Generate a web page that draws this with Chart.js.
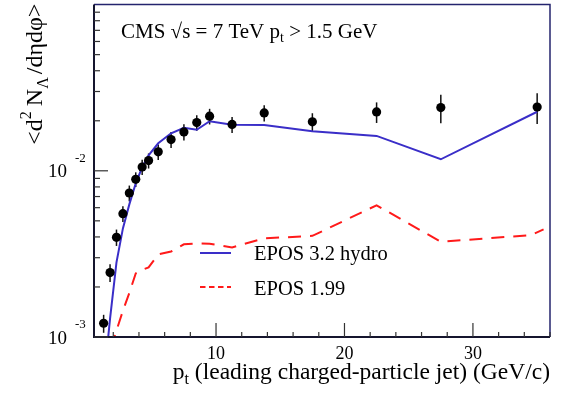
<!DOCTYPE html>
<html><head><meta charset="utf-8">
<script src="https://cdn.jsdelivr.net/npm/chart.js@4.4.1/dist/chart.umd.min.js"></script>
<style>html,body{margin:0;padding:0;background:#fff;}canvas{display:block;}</style>
</head><body>
<canvas id="c" width="565" height="395"></canvas>
<script>
// CMS data points (pt bin centres, value, stat. error)
const dataPt  = [1.25, 1.75, 2.25, 2.75, 3.25, 3.75, 4.25, 4.75, 5.5, 6.5, 7.5, 8.5, 9.5, 11.25, 13.75, 17.5, 22.5, 27.5, 35];
const dataVal = [0.00121, 0.00244, 0.00398, 0.00552, 0.00735, 0.00889, 0.01054, 0.01152, 0.0130, 0.01542, 0.01713, 0.01951, 0.0213, 0.0190, 0.0223, 0.0197, 0.0226, 0.0240, 0.0242];
const dataErr = [0.00015, 0.0003, 0.00045, 0.0006, 0.0008, 0.0009, 0.0011, 0.0012, 0.0014, 0.0017, 0.0019, 0.0021, 0.0023, 0.0021, 0.0025, 0.0025, 0.0032, 0.0047, 0.0051];
// EPOS 3.2 hydro
const hydroPt  = [1.25, 1.75, 2.25, 2.75, 3.25, 3.75, 4.25, 4.75, 5.5, 6.5, 7.5, 8.5, 9.5, 11.25, 13.75, 17.5, 22.5, 27.5, 35];
const hydroVal = [0.00053, 0.00129, 0.00281, 0.0045, 0.00628, 0.00841, 0.0105, 0.0124, 0.01464, 0.01682, 0.01816, 0.01766, 0.01987, 0.01892, 0.01888, 0.0173, 0.01621, 0.01173, 0.02266];
// EPOS 1.99
const eposPt  = [1.25, 1.75, 2.25, 2.75, 3.25, 3.75, 4.25, 4.75, 5.5, 6.5, 7.5, 8.5, 9.5, 11.25, 13.75, 17.5, 22.5, 27.5, 34.5, 35.5];
const eposVal = [0.00065, 0.000832, 0.001094, 0.00144, 0.001841, 0.002413, 0.002533, 0.002622, 0.00314, 0.00327, 0.00361, 0.00366, 0.00364, 0.00346, 0.00392, 0.00406, 0.0062, 0.00374, 0.00410, 0.00444];
// axis ticks
const xMajorTicks = [10, 20, 30];
const xTickLabels = ['10', '20', '30'];
const yMajorTicks = [0.001, 0.01];
const yTickBase = ['10', '10'];
const yTickExp  = ['-3', '-2'];
const seriesNames = ['EPOS 3.2 hydro', 'EPOS 1.99'];

const SERIF = '"Liberation Serif", "DejaVu Serif", serif';
const BLUE = '#3a2ec8';
const RED = '#ff1a1a';

function drawParts(ctx, parts, x, y) {
  let cx = x;
  for (const p of parts) {
    ctx.font = p.s + 'px ' + SERIF;
    ctx.fillText(p.t, cx, y + (p.dy || 0));
    cx += ctx.measureText(p.t).width + (p.gap || 0);
  }
  return cx - x;
}
function measureParts(ctx, parts) {
  let w = 0;
  for (const p of parts) { ctx.font = p.s + 'px ' + SERIF; w += ctx.measureText(p.t).width + (p.gap || 0); }
  return w;
}

const errorBars = {
  id: 'errorBars',
  beforeDatasetsDraw(chart) {
    const ctx = chart.ctx, xs = chart.scales.x, ys = chart.scales.y;
    ctx.save();
    ctx.strokeStyle = '#111';
    ctx.lineWidth = 1.5;
    for (let i = 0; i < dataPt.length; i++) {
      const px = xs.getPixelForValue(dataPt[i]);
      const y1 = ys.getPixelForValue(dataVal[i] - dataErr[i]);
      const y2 = ys.getPixelForValue(dataVal[i] + dataErr[i]);
      ctx.beginPath(); ctx.moveTo(px, y1); ctx.lineTo(px, y2); ctx.stroke();
    }
    ctx.restore();
  }
};

const decor = {
  id: 'decor',
  afterDraw(chart) {
    const ctx = chart.ctx, a = chart.chartArea, xs = chart.scales.x, ys = chart.scales.y;
    ctx.save();
    // frame
    ctx.lineWidth = 1.5;
    ctx.strokeStyle = '#24246e';
    ctx.beginPath(); ctx.moveTo(a.left, a.top); ctx.lineTo(a.right, a.top); ctx.lineTo(a.right, a.bottom); ctx.stroke();
    ctx.lineWidth = 2;
    ctx.strokeStyle = '#15152e';
    ctx.beginPath(); ctx.moveTo(a.left, a.top); ctx.lineTo(a.left, a.bottom); ctx.lineTo(a.right, a.bottom); ctx.stroke();
    // ticks
    ctx.lineWidth = 1.2;
    ctx.strokeStyle = '#333';
    for (let v = 2; v <= 36; v += 2) {
      const px = xs.getPixelForValue(v);
      const len = (v % 10 === 0) ? 14 : 5;
      ctx.beginPath(); ctx.moveTo(px, a.bottom); ctx.lineTo(px, a.bottom - len); ctx.stroke();
    }
    for (let e = -3; e <= -2; e++) {
      for (let k = 1; k <= 9; k++) {
        const v = k * Math.pow(10, e);
        const py = ys.getPixelForValue(v);
        const len = (k === 1) ? 14 : 6;
        ctx.beginPath(); ctx.moveTo(a.left, py); ctx.lineTo(a.left + len, py); ctx.stroke();
      }
    }
    ctx.fillStyle = '#000';
    ctx.textBaseline = 'alphabetic';
    // x tick labels
    ctx.font = '18px ' + SERIF;
    ctx.textAlign = 'center';
    xMajorTicks.forEach((v, i) => ctx.fillText(xTickLabels[i], xs.getPixelForValue(v), a.bottom + 22));
    // y tick labels
    yMajorTicks.forEach((v, i) => {
      const py = ys.getPixelForValue(v);
      ctx.textAlign = 'right';
      ctx.font = '19px ' + SERIF;
      ctx.fillText(yTickBase[i], 67, py + 6.5);
      ctx.textAlign = 'left';
      ctx.font = '13px ' + SERIF;
      ctx.fillText(yTickExp[i], 75, py - 9);
    });
    ctx.textAlign = 'left';
    // x title
    const xt = [{t: 'p', s: 23.5}, {t: 't', s: 16, dy: 5}, {t: ' (leading charged-particle jet) (GeV/c)', s: 23.5}];
    drawParts(ctx, xt, a.right - measureParts(ctx, xt), 378.5);
    // y title (rotated)
    const yt = [{t: '<d', s: 24}, {t: '2', s: 16, dy: -11, gap: 5}, {t: 'N', s: 24}, {t: 'Λ', s: 16, dy: 6, gap: 3}, {t: '/dηdφ>', s: 24}];
    ctx.save();
    ctx.translate(42, a.top - 1 + measureParts(ctx, yt));
    ctx.rotate(-Math.PI / 2);
    drawParts(ctx, yt, 0, 0);
    ctx.restore();
    // CMS label
    drawParts(ctx, [{t: 'CMS √s = 7 TeV p', s: 21}, {t: 't', s: 14, dy: 4}, {t: ' > 1.5 GeV', s: 21}], 121, 37.5);
    // legend
    ctx.lineWidth = 2;
    ctx.strokeStyle = BLUE;
    ctx.beginPath(); ctx.moveTo(200, 253); ctx.lineTo(231, 253); ctx.stroke();
    ctx.strokeStyle = RED;
    ctx.setLineDash([5.5, 3.5]);
    ctx.beginPath(); ctx.moveTo(200, 287); ctx.lineTo(231, 287); ctx.stroke();
    ctx.setLineDash([]);
    ctx.font = '20.5px ' + SERIF;
    ctx.fillText(seriesNames[0], 254, 260);
    ctx.fillText(seriesNames[1], 254, 294.5);
    ctx.restore();
  }
};

new Chart(document.getElementById('c'), {
  type: 'line',
  data: {
    datasets: [
      { label: 'CMS', data: dataPt.map((x, i) => ({x, y: dataVal[i]})), showLine: false,
        pointRadius: 4.6, pointBackgroundColor: '#000', pointBorderColor: '#000', pointBorderWidth: 0 },
      { label: seriesNames[0], data: hydroPt.map((x, i) => ({x, y: hydroVal[i]})), borderColor: BLUE, borderWidth: 2,
        pointRadius: 0, tension: 0, fill: false },
      { label: seriesNames[1], data: eposPt.map((x, i) => ({x, y: eposVal[i]})), borderColor: RED, borderWidth: 2,
        borderDash: [13, 9], pointRadius: 0, tension: 0, fill: false }
    ]
  },
  options: {
    responsive: false, animation: false, devicePixelRatio: 1,
    layout: { padding: { left: 94, right: 15, top: 4, bottom: 58 } },
    plugins: { legend: { display: false }, tooltip: { enabled: false } },
    scales: {
      x: { type: 'linear', min: 0.5, max: 36, display: false },
      y: { type: 'logarithmic', min: 0.001, max: 0.1, display: false }
    }
  },
  plugins: [errorBars, decor]
});
</script>
</body></html>
